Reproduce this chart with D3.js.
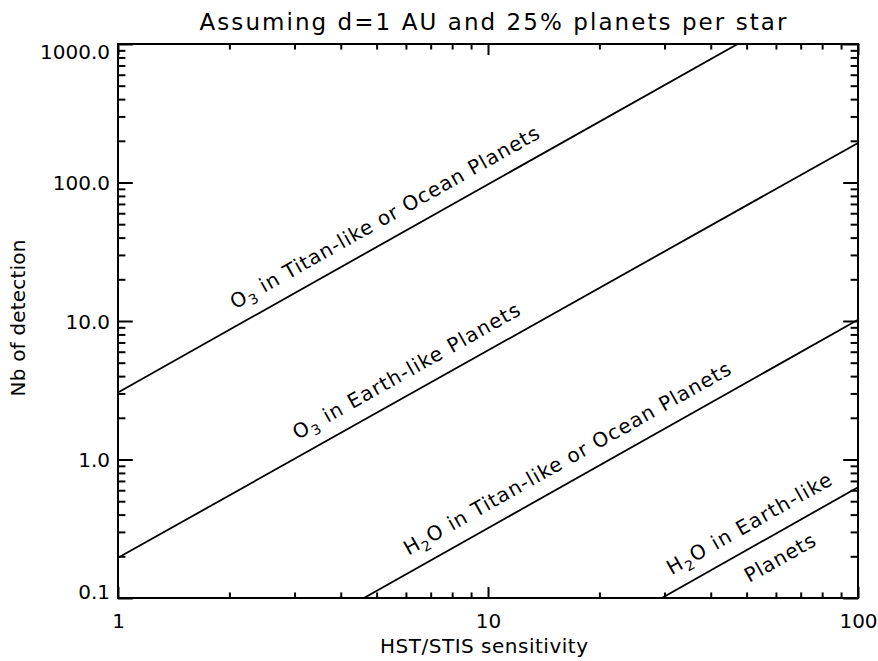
<!DOCTYPE html>
<html lang="en">
<head>
  <meta charset="UTF-8" />
  <title>Assuming d=1 AU and 25% planets per star</title>
  <script src="https://d3js.org/d3.v7.min.js"></script>
  <style>
    body { margin: 0; background: #fff; }
    text { font-family: "DejaVu Sans", sans-serif; fill: #000; }
  </style>
</head>
<body>
  <svg id="chart" width="878" height="661"></svg>

  <script>
    // axis ticks
    const xTicks = [1, 10, 100];
    const xTickLabels = ["1", "10", "100"];
    const yTicks = [0.1, 1, 10, 100, 1000];
    const yTickLabels = ["0.1", "1.0", "10.0", "100.0", "1000.0"];

    // line end points (x = sensitivity, y = detections)
    const o3TitanX = [1, 47.3];
    const o3TitanY = [3.05, 1000];
    const o3EarthX = [1, 100];
    const o3EarthY = [0.195, 193];
    const h2oTitanX = [4.62, 100];
    const h2oTitanY = [0.1, 10.2];
    const h2oEarthX = [29.5, 100];
    const h2oEarthY = [0.1, 0.63];

    // labels: [molecule, subscript, rest], anchor x on the line
    const labelParts = [
      ["O", "3", " in Titan-like or Ocean Planets"],
      ["O", "3", " in Earth-like Planets"],
      ["H", "2", "O in Titan-like or Ocean Planets"],
      ["H", "2", "O in Earth-like"],
      ["", "", "Planets"]
    ];
    const labelSeries = [0, 1, 2, 3, 3];
    const labelAnchorX = [5.62, 6.43, 17.5, 54.3, 57.3];

    const svg = d3.select("#chart");
    const m = { left: 118, right: 858, top: 44, bottom: 598 };

    const x = d3.scaleLog().domain([1, 100]).range([m.left, m.right]);
    const y = d3.scaleLog().domain([0.1, 1000]).range([m.bottom, m.top]);

    const series = [
      [o3TitanX, o3TitanY],
      [o3EarthX, o3EarthY],
      [h2oTitanX, h2oTitanY],
      [h2oEarthX, h2oEarthY]
    ].map(([xs, ys]) => xs.map((v, i) => [v, ys[i]]));

    const minorOf = (lo, hi) => {
      const out = [];
      for (let d = lo; d < hi * 0.999; d *= 10) {
        for (let k = 2; k <= 9; k++) out.push(d * k);
      }
      return out;
    };
    const xMinor = minorOf(1, 100);
    const yMinor = minorOf(0.1, 1000);

    const xLen = 0.02 * (m.bottom - m.top);   // IDL style tick length
    const yLen = 0.02 * (m.right - m.left);

    function styleAxis(g) {
      g.select(".domain").remove();
      g.selectAll("line").attr("stroke", "#000").attr("stroke-width", 2);
      g.selectAll("text").style("font-size", "20px").attr("fill", "#000");
    }

    // bottom
    svg.append("g").attr("transform", `translate(0,${m.bottom})`)
      .call(d3.axisBottom(x).tickValues(xMinor).tickSize(-xLen / 2).tickFormat(""))
      .call(styleAxis);
    svg.append("g").attr("transform", `translate(0,${m.bottom})`)
      .call(d3.axisBottom(x).tickValues(xTicks).tickSize(-xLen).tickPadding(16)
        .tickFormat((d, i) => xTickLabels[i]))
      .call(styleAxis);
    // top
    svg.append("g").attr("transform", `translate(0,${m.top})`)
      .call(d3.axisTop(x).tickValues(xMinor).tickSize(-xLen / 2).tickFormat(""))
      .call(styleAxis);
    svg.append("g").attr("transform", `translate(0,${m.top})`)
      .call(d3.axisTop(x).tickValues(xTicks).tickSize(-xLen).tickFormat(""))
      .call(styleAxis);
    // left
    svg.append("g").attr("transform", `translate(${m.left},0)`)
      .call(d3.axisLeft(y).tickValues(yMinor).tickSize(-yLen / 2).tickFormat(""))
      .call(styleAxis);
    const yAxis = svg.append("g").attr("transform", `translate(${m.left},0)`)
      .call(d3.axisLeft(y).tickValues(yTicks).tickSize(-yLen).tickPadding(8)
        .tickFormat((d, i) => yTickLabels[i]))
      .call(styleAxis);
    // end labels sit inside the frame
    yAxis.selectAll("text")
      .attr("dy", (d, i) => i === 0 ? "0.02em" : i === yTicks.length - 1 ? "0.72em" : "0.35em");
    // right
    svg.append("g").attr("transform", `translate(${m.right},0)`)
      .call(d3.axisRight(y).tickValues(yMinor).tickSize(-yLen / 2).tickFormat(""))
      .call(styleAxis);
    svg.append("g").attr("transform", `translate(${m.right},0)`)
      .call(d3.axisRight(y).tickValues(yTicks).tickSize(-yLen).tickFormat(""))
      .call(styleAxis);

    // frame
    svg.append("rect")
      .attr("x", m.left).attr("y", m.top)
      .attr("width", m.right - m.left).attr("height", m.bottom - m.top)
      .attr("fill", "none").attr("stroke", "#000").attr("stroke-width", 2);

    svg.append("clipPath").attr("id", "plot-clip")
      .append("rect")
      .attr("x", m.left).attr("y", m.top)
      .attr("width", m.right - m.left).attr("height", m.bottom - m.top);

    const line = d3.line().x(d => x(d[0])).y(d => y(d[1]));

    svg.append("g").attr("clip-path", "url(#plot-clip)")
      .selectAll("path")
      .data(series)
      .join("path")
      .attr("d", line)
      .attr("fill", "none")
      .attr("stroke", "#000")
      .attr("stroke-width", 1.8);

    // point on a series at a given x (straight line in log-log space)
    function onLine(s, xv) {
      const [a, b] = s;
      const t = (Math.log(xv) - Math.log(a[0])) / (Math.log(b[0]) - Math.log(a[0]));
      return Math.exp(Math.log(a[1]) + t * (Math.log(b[1]) - Math.log(a[1])));
    }

    const labelOffset = [-15, -15, -15, -15, 30];
    const labelLength = [351, 257, 372, 186, 78];

    labelParts.forEach((parts, i) => {
      const s = series[labelSeries[i]];
      const xv = labelAnchorX[i];
      const px = x(xv), py = y(onLine(s, xv));
      const ang = Math.atan2(y(s[1][1]) - y(s[0][1]), x(s[1][0]) - x(s[0][0])) * 180 / Math.PI;
      const t = svg.append("text")
        .attr("transform", `translate(${px},${py}) rotate(${ang}) translate(0,${labelOffset[i]})`)
        .attr("text-anchor", "middle")
        .attr("textLength", labelLength[i])
        .attr("lengthAdjust", "spacing")
        .style("font-size", "20px");
      if (parts[0]) t.append("tspan").text(parts[0]);
      if (parts[1]) t.append("tspan").attr("dy", 5).style("font-size", "14px").text(parts[1]);
      t.append("tspan").attr("dy", parts[1] ? -5 : 0).text(parts[2]);
    });

    // titles
    svg.append("text")
      .attr("x", 493).attr("y", 30)
      .attr("text-anchor", "middle")
      .attr("textLength", 587).attr("lengthAdjust", "spacing")
      .style("font-size", "23px")
      .text("Assuming d=1 AU and 25% planets per star");

    svg.append("text")
      .attr("x", 484).attr("y", 653)
      .attr("text-anchor", "middle")
      .attr("textLength", 208).attr("lengthAdjust", "spacing")
      .style("font-size", "20px")
      .text("HST/STIS sensitivity");

    svg.append("text")
      .attr("transform", `translate(25,${318}) rotate(-90)`)
      .attr("text-anchor", "middle")
      .attr("textLength", 157).attr("lengthAdjust", "spacing")
      .style("font-size", "20px")
      .text("Nb of detection");
  </script>
</body>
</html>
